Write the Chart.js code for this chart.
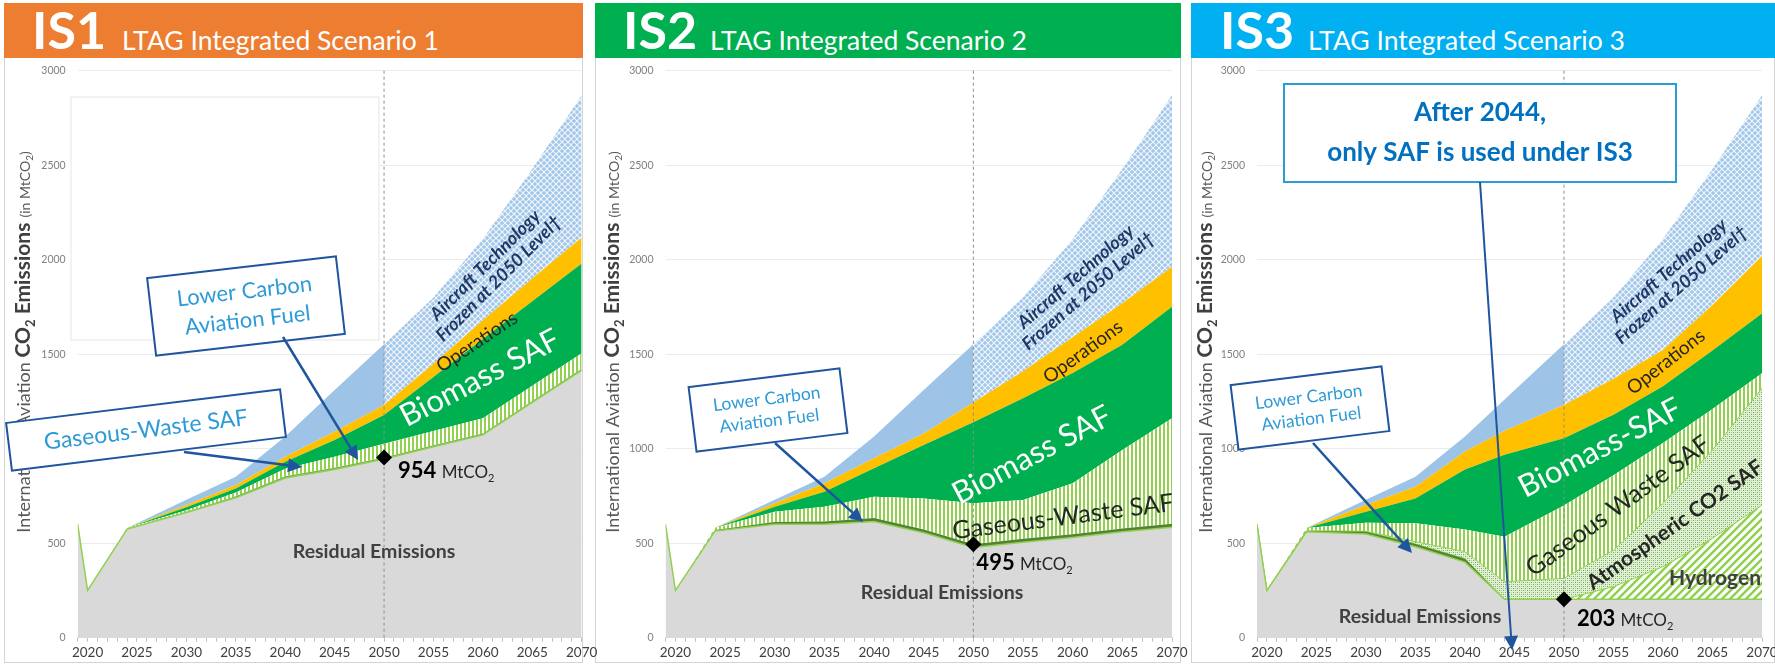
<!DOCTYPE html>
<html>
<head>
<meta charset="utf-8">
<script src="https://cdn.jsdelivr.net/npm/chart.js@4.4.1/dist/chart.umd.min.js"></script>
<style>
body { margin:0; width:1775px; height:667px; background:#fff; position:relative; overflow:hidden; font-family:Lato, sans-serif; }
.panel { position:absolute; top:3px; height:660px; border:1px solid #d4d4d4; box-sizing:border-box; }
.head { position:absolute; top:3px; height:55px; color:#fff; }
.head b { position:absolute; top:0px; font-size:52px; font-weight:700; line-height:52px; }
.head span { position:absolute; top:24px; font-size:26.5px; line-height:26px; }
canvas { position:absolute; top:58px; }
</style>
</head>
<body>

<div class="panel" style="left:4px;width:579px"></div>
<div class="panel" style="left:595px;width:586px"></div>
<div class="panel" style="left:1191px;width:584px"></div>

<div class="head" style="left:4px;width:579px;background:#ed7d31"><b style="left:28px">IS1</b><span style="left:118px">LTAG Integrated Scenario 1</span></div>
<div class="head" style="left:595px;width:586px;background:#00b050"><b style="left:28px">IS2</b><span style="left:115px">LTAG Integrated Scenario 2</span></div>
<div class="head" style="left:1191px;width:584px;background:#00b0f0"><b style="left:29px">IS3</b><span style="left:117px">LTAG Integrated Scenario 3</span></div>

<canvas id="c1" width="600" height="609" style="left:4px"></canvas>
<canvas id="c2" width="606" height="609" style="left:595px"></canvas>
<canvas id="c3" width="600" height="609" style="left:1191px"></canvas>

<script>
// years on the x axis
const years12 = [2019, 2020, 2024, 2030, 2035, 2040, 2045, 2050, 2055, 2060, 2065, 2070];
const years3 = [2019, 2020, 2024, 2030, 2035, 2040, 2044, 2050, 2055, 2060, 2065, 2070];
const labelYears = [2020, 2025, 2030, 2035, 2040, 2045, 2050, 2055, 2060, 2065, 2070];
const yTicks = [0, 500, 1000, 1500, 2000, 2500, 3000];

// IS1 (MtCO2, stacked from the bottom)
const residual1 = [600, 250, 575, 662, 740, 845, 890, 945, 1010, 1073, 1245, 1415];
const lcaf1 = [0, 0, 3, 5, 8, 9, 9, 9, 8, 8, 8, 8];
const gaseous1 = [0, 0, 2, 8, 20, 40, 58, 72, 76, 80, 80, 82];
const biomass1 = [0, 0, 0, 15, 22, 37, 89, 152, 286, 419, 447, 475];
const operations1 = [0, 0, 0, 12, 18, 27, 44, 53, 70, 100, 120, 138];
const technology1 = [0, 0, 0, 28, 44, 106, 220, 321, 350, 430, 580, 752];

// IS2
const residual2 = [600, 250, 565, 600, 600, 615, 555, 477, 505, 530, 560, 585];
const lcaf2 = [0, 0, 5, 12, 15, 18, 18, 18, 18, 18, 18, 18];
const gaseous2 = [0, 0, 12, 55, 78, 113, 164, 216, 206, 269, 415, 558];
const biomass2 = [0, 0, 0, 26, 79, 150, 283, 429, 538, 583, 557, 590];
const operations2 = [0, 0, 0, 18, 45, 53, 61, 105, 143, 190, 220, 212];
const technology2 = [0, 0, 0, 19, 35, 115, 229, 307, 390, 520, 710, 907];

// IS3
const residual3 = [600, 250, 560, 549, 481, 400, 203, 203, 203, 203, 203, 203];
const lcaf3 = [0, 0, 5, 12, 15, 18, 0, 0, 0, 0, 0, 0];
const hydrogen3 = [0, 0, 0, 0, 0, 0, 0, 0, 67, 173, 323, 499];
const atmospheric3 = [0, 0, 0, 2, 12, 37, 93, 111, 193, 335, 467, 618];
const gaseous3 = [0, 0, 15, 45, 97, 118, 238, 386, 397, 319, 217, 79];
const biomass3 = [0, 0, 0, 59, 132, 317, 434, 355, 320, 300, 310, 316];
const operations3 = [0, 0, 0, 35, 62, 95, 127, 176, 190, 192, 240, 305];
const technology3 = [0, 0, 0, 28, 53, 79, 165, 321, 430, 588, 720, 850];

// 2050 residual points
const markerYear = 2050;
const markerValues = [954, 495, 203];


function pat(w, h, draw){
    let c = document.createElement("canvas");
    c.width = w; c.height = h;
    let g = c.getContext("2d");
    draw(g);
    return g.createPattern(c, "repeat");
}

const techPat = pat(6, 6, g => {
    g.fillStyle = "#a2c6e8"; g.fillRect(0, 0, 6, 6);
    g.strokeStyle = "#eef5fc"; g.lineWidth = 1.2;
    g.beginPath(); g.moveTo(0, 0); g.lineTo(6, 6); g.moveTo(6, 0); g.lineTo(0, 6); g.stroke();
});
const stripePat = pat(4, 4, g => {
    g.fillStyle = "#fff"; g.fillRect(0, 0, 4, 4);
    g.fillStyle = "#92d050"; g.fillRect(0, 0, 2, 4);
});
const dotPat = pat(4, 4, g => {
    g.fillStyle = "#e2f0d9"; g.fillRect(0, 0, 4, 4);
    g.fillStyle = "#70ad47"; g.fillRect(0, 0, 1, 1); g.fillRect(2, 2, 1, 1);
    g.fillStyle = "#a9d18e"; g.fillRect(2, 0, 1, 1); g.fillRect(0, 2, 1, 1);
});
const hydroPat = pat(8, 8, g => {
    g.fillStyle = "#fff"; g.fillRect(0, 0, 8, 8);
    g.strokeStyle = "#92d050"; g.lineWidth = 2.5;
    g.beginPath();
    g.moveTo(0, 8); g.lineTo(8, 0);
    g.moveTo(-2, 2); g.lineTo(2, -2);
    g.moveTo(6, 10); g.lineTo(10, 6);
    g.stroke();
});


function area(label, years, values, fill, bg, extra){
    return Object.assign({
        label: label,
        data: years.map((x, i) => ({x: x, y: values[i]})),
        fill: fill,
        backgroundColor: bg,
        borderWidth: 0,
        pointRadius: 0,
        tension: 0
    }, extra || {});
}

function techArea(years, values){
    return area("Aircraft Technology", years, values, "-1", "#9dc3e6", {
        segment: { backgroundColor: c => c.p0.parsed.x >= 2050 ? techPat : "#9dc3e6" }
    });
}

function marker(v){
    return {
        label: "2050", data: [{x: markerYear, y: v}], stack: "mark", order: -1,
        showLine: false, pointStyle: "rectRot", pointRadius: 8,
        backgroundColor: "#000", borderColor: "#000", borderWidth: 0
    };
}

function residual(years, values){
    return area("Residual Emissions", years, values, "origin", "#d9d9d9", {borderColor: "#92d050", borderWidth: 1.5});
}


// drawing helpers
function runs(ctx, parts, x, y, center){
    let w = 0;
    parts.forEach(p => { ctx.font = p[1]; w += ctx.measureText(p[0]).width; });
    let cx = center ? x - w / 2 : x;
    parts.forEach(p => {
        ctx.font = p[1]; ctx.fillStyle = p[2];
        ctx.fillText(p[0], cx, y + (p[3] || 0));
        cx += ctx.measureText(p[0]).width;
    });
}

function label(ctx, t){
    ctx.save();
    ctx.translate(t.x, t.y);
    ctx.rotate((t.a || 0) * Math.PI / 180);
    ctx.font = t.font; ctx.fillStyle = t.color;
    ctx.textAlign = "center"; ctx.textBaseline = "middle";
    let lines = t.text.split("\n");
    lines.forEach((s, i) => ctx.fillText(s, 0, (i - (lines.length - 1) / 2) * (t.lh || 0)));
    ctx.restore();
}

function box(ctx, b){
    ctx.save();
    ctx.translate(b.x, b.y);
    ctx.rotate((b.a || 0) * Math.PI / 180);
    ctx.fillStyle = "#fff";
    ctx.fillRect(-b.w / 2, -b.h / 2, b.w, b.h);
    ctx.lineWidth = 2; ctx.strokeStyle = b.stroke;
    ctx.strokeRect(-b.w / 2, -b.h / 2, b.w, b.h);
    ctx.restore();
    label(ctx, b);
}

function arrow(ctx, a){
    let [x1, y1, x2, y2] = a.p;
    let ang = Math.atan2(y2 - y1, x2 - x1);
    let hl = a.hl || 14, hw = a.hw || 7;
    let c = Math.cos(ang), s = Math.sin(ang);
    ctx.save();
    ctx.strokeStyle = ctx.fillStyle = "#1f559f";
    ctx.lineWidth = a.w || 2.5;
    ctx.beginPath(); ctx.moveTo(x1, y1); ctx.lineTo(x2 - hl * c, y2 - hl * s); ctx.stroke();
    ctx.beginPath();
    ctx.moveTo(x2, y2);
    ctx.lineTo(x2 - hl * c + hw * s, y2 - hl * s - hw * c);
    ctx.lineTo(x2 - hl * c - hw * s, y2 - hl * s + hw * c);
    ctx.closePath(); ctx.fill();
    ctx.restore();
}

function yTitle(ctx, x, y){
    ctx.save();
    ctx.translate(x, y);
    ctx.rotate(-Math.PI / 2);
    ctx.textBaseline = "alphabetic";
    runs(ctx, [
        ["International Aviation ", "18px Lato", "#595959"],
        ["CO", "bold 21px Lato", "#404040"],
        ["2", "bold 13px Lato", "#404040", 5],
        [" Emissions ", "bold 21px Lato", "#404040"],
        ["(in MtCO", "14px Lato", "#595959"],
        ["2", "10px Lato", "#595959", 3],
        [")", "14px Lato", "#595959"]
    ], 0, 0, true);
    ctx.restore();
}

const LB = "#2e9bd6";
const DARK = "#262626";
const TECH = "bold italic 18px Lato";


function makeChart(id, p, datasets){

    let plugin = {
        id: "notes" + id,

        beforeDatasetsDraw(chart){
            if(p.blank){
                let ctx = chart.ctx;
                ctx.save();
                ctx.translate(-p.ox, -p.oy);
                ctx.fillStyle = "#fff";
                ctx.fillRect(p.blank[0], p.blank[1], p.blank[2], p.blank[3]);
                ctx.strokeStyle = "#e6e6e6"; ctx.lineWidth = 1;
                ctx.strokeRect(p.blank[0], p.blank[1], p.blank[2], p.blank[3]);
                ctx.restore();
            }
        },

        beforeDatasetDraw(chart, args){
            if(args.index !== chart.data.datasets.length - 1) return;
            let ctx = chart.ctx;
            let x = chart.scales.x.getPixelForValue(markerYear);
            ctx.save();
            ctx.strokeStyle = "#8c8c8c"; ctx.lineWidth = 1;
            ctx.setLineDash([3, 3]);
            ctx.beginPath();
            ctx.moveTo(x, chart.chartArea.top);
            ctx.lineTo(x, chart.chartArea.bottom);
            ctx.stroke();
            ctx.restore();
        },

        afterDraw(chart){
            let ctx = chart.ctx;
            ctx.save();
            // marker value label
            let pt = chart.getDatasetMeta(chart.data.datasets.length - 1).data[0];
            ctx.textBaseline = "alphabetic";
            runs(ctx, [
                [String(p.value) + " ", "bold 22px Lato", "#000"],
                ["MtCO", "17px Lato", "#262626"],
                ["2", "11px Lato", "#262626", 4]
            ], pt.x + p.vdx, pt.y + p.vdy, false);

            ctx.translate(-p.ox, -p.oy);
            yTitle(ctx, p.title[0], p.title[1]);
            p.boxes.forEach(b => box(ctx, b));
            p.arrows.forEach(a => arrow(ctx, a));
            p.labels.forEach(t => label(ctx, t));
            ctx.restore();
        }
    };

    return new Chart(document.getElementById(id), {
        type: "line",
        data: { datasets: datasets },
        plugins: [plugin],
        options: {
            responsive: false,
            animation: false,
            events: [],
            layout: { autoPadding: false, padding: { left: 0, right: p.right, top: 12.7, bottom: 0 } },
            plugins: { legend: { display: false }, tooltip: { enabled: false } },
            scales: {
                x: {
                    type: "linear", min: 2019, max: 2070,
                    afterBuildTicks: s => { s.ticks = []; for(let v = 2019; v <= 2070; v++) s.ticks.push({value: v}); },
                    afterFit: s => { s.height = 29.3; },
                    ticks: {
                        autoSkip: false, maxRotation: 0, padding: 3,
                        color: "#404040", font: { family: "Lato", size: 13.5 },
                        callback: v => labelYears.includes(v) ? String(v) : ""
                    },
                    grid: { drawOnChartArea: false, tickLength: 4, color: "#bfbfbf" },
                    border: { display: true, color: "#d9d9d9" }
                },
                y: {
                    stacked: true, min: 0, max: 3000,
                    afterBuildTicks: s => { s.ticks = yTicks.map(v => ({value: v})); },
                    afterFit: s => { s.width = p.left; },
                    ticks: { padding: 0, color: "#808080", font: { family: "Lato", size: 10.5 }, callback: v => String(v) },
                    grid: { color: "#ebebeb", drawTicks: true, tickLength: 12, tickColor: "rgba(0,0,0,0)" },
                    border: { display: false }
                }
            }
        }
    });
}


window.onload = function(){

    makeChart("c1", {
        ox: 4, oy: 58, left: 73.7, right: 22.3, value: markerValues[0], vdx: 14, vdy: 21,
        title: [30, 342], blank: [71, 97, 308, 243],
        boxes: [
            {x: 246, y: 306, w: 190, h: 78, a: -6.6, stroke: "#1f559f", text: "Lower Carbon\nAviation Fuel", font: "22px Lato", color: LB, lh: 29},
            {x: 146, y: 430, w: 276, h: 48, a: -7, stroke: "#1f559f", text: "Gaseous-Waste SAF", font: "23px Lato", color: LB}
        ],
        arrows: [
            {p: [283, 337, 358, 460]},
            {p: [184, 452, 302, 467]}
        ],
        labels: [
            {x: 374, y: 552, text: "Residual Emissions", font: "bold 19.5px Lato", color: "#404040"},
            {x: 480, y: 378, a: -27.5, text: "Biomass SAF", font: "31px Lato", color: "#fff"},
            {x: 477, y: 342, a: -34, text: "Operations", font: "19px Lato", color: DARK},
            {x: 492, y: 272, a: -45, text: "Aircraft Technology\nFrozen at 2050 Level\u2020", font: TECH, color: "#1f3864", lh: 19}
        ]
    }, [
        residual(years12, residual1),
        area("Lower Carbon Aviation Fuel", years12, lcaf1, "-1", "#70ad47"),
        area("Gaseous-Waste SAF", years12, gaseous1, "-1", stripePat),
        area("Biomass SAF", years12, biomass1, "-1", "#00b050"),
        area("Operations", years12, operations1, "-1", "#ffc000"),
        techArea(years12, technology1),
        marker(markerValues[0])
    ]);

    makeChart("c2", {
        ox: 595, oy: 58, left: 70.5, right: 29, value: markerValues[1], vdx: 3, vdy: 26,
        title: [619, 342],
        boxes: [
            {x: 768, y: 410, w: 152, h: 65, a: -7, stroke: "#1f559f", text: "Lower Carbon\nAviation Fuel", font: "17.5px Lato", color: LB, lh: 22}
        ],
        arrows: [
            {p: [775, 443, 863, 522]}
        ],
        labels: [
            {x: 942, y: 593, text: "Residual Emissions", font: "bold 19.5px Lato", color: "#404040"},
            {x: 1063, y: 517, a: -7.4, text: "Gaseous-Waste SAF", font: "25px Lato", color: DARK},
            {x: 1032, y: 455, a: -28, text: "Biomass SAF", font: "31px Lato", color: "#fff"},
            {x: 1083, y: 352, a: -36, text: "Operations", font: "19px Lato", color: DARK},
            {x: 1082, y: 284, a: -41, text: "Aircraft Technology\nFrozen at 2050 Level\u2020", font: TECH, color: "#1f3864", lh: 19}
        ]
    }, [
        residual(years12, residual2),
        area("Lower Carbon Aviation Fuel", years12, lcaf2, "-1", "#548235"),
        area("Gaseous-Waste SAF", years12, gaseous2, "-1", stripePat),
        area("Biomass SAF", years12, biomass2, "-1", "#00b050"),
        area("Operations", years12, operations2, "-1", "#ffc000"),
        techArea(years12, technology2),
        marker(markerValues[1])
    ]);

    makeChart("c3", {
        ox: 1191, oy: 58, left: 66, right: 29, value: markerValues[2], vdx: 13, vdy: 27,
        title: [1212, 342],
        boxes: [
            {x: 1480, y: 133, w: 392, h: 98, a: 0, stroke: "#2e9bd6", text: "After 2044,\nonly SAF is used under IS3", font: "bold 26px Lato", color: "#0070c0", lh: 40},
            {x: 1310, y: 408, w: 152, h: 65, a: -7, stroke: "#1f559f", text: "Lower Carbon\nAviation Fuel", font: "17.5px Lato", color: LB, lh: 22}
        ],
        arrows: [
            {p: [1480, 182, 1512, 650], hl: 14, hw: 7, w: 2},
            {p: [1313, 443, 1412, 553]}
        ],
        labels: [
            {x: 1420, y: 617, text: "Residual Emissions", font: "bold 19.5px Lato", color: "#404040"},
            {x: 1600, y: 448, a: -27.6, text: "Biomass-SAF", font: "31px Lato", color: "#fff"},
            {x: 1618, y: 506, a: -36, text: "Gaseous Waste SAF", font: "25px Lato", color: DARK},
            {x: 1675, y: 525, a: -35, text: "Atmospheric CO2 SAF", font: "bold 21px Lato", color: DARK},
            {x: 1715, y: 578, text: "Hydrogen", font: "bold 21px Lato", color: "#404040"},
            {x: 1666, y: 362, a: -38, text: "Operations", font: "19px Lato", color: DARK},
            {x: 1675, y: 278, a: -41, text: "Aircraft Technology\nFrozen at 2050 Level\u2020", font: TECH, color: "#1f3864", lh: 19}
        ]
    }, [
        residual(years3, residual3),
        area("Lower Carbon Aviation Fuel", years3, lcaf3, "-1", "#548235"),
        area("Hydrogen", years3, hydrogen3, "-1", hydroPat, {borderColor: "#92d050", borderWidth: 1}),
        area("Atmospheric CO2 SAF", years3, atmospheric3, "-1", dotPat, {borderColor: "#92d050", borderWidth: 1}),
        area("Gaseous Waste SAF", years3, gaseous3, "-1", stripePat),
        area("Biomass-SAF", years3, biomass3, "-1", "#00b050"),
        area("Operations", years3, operations3, "-1", "#ffc000"),
        techArea(years3, technology3),
        marker(markerValues[2])
    ]);
};
</script>
</body>
</html>
